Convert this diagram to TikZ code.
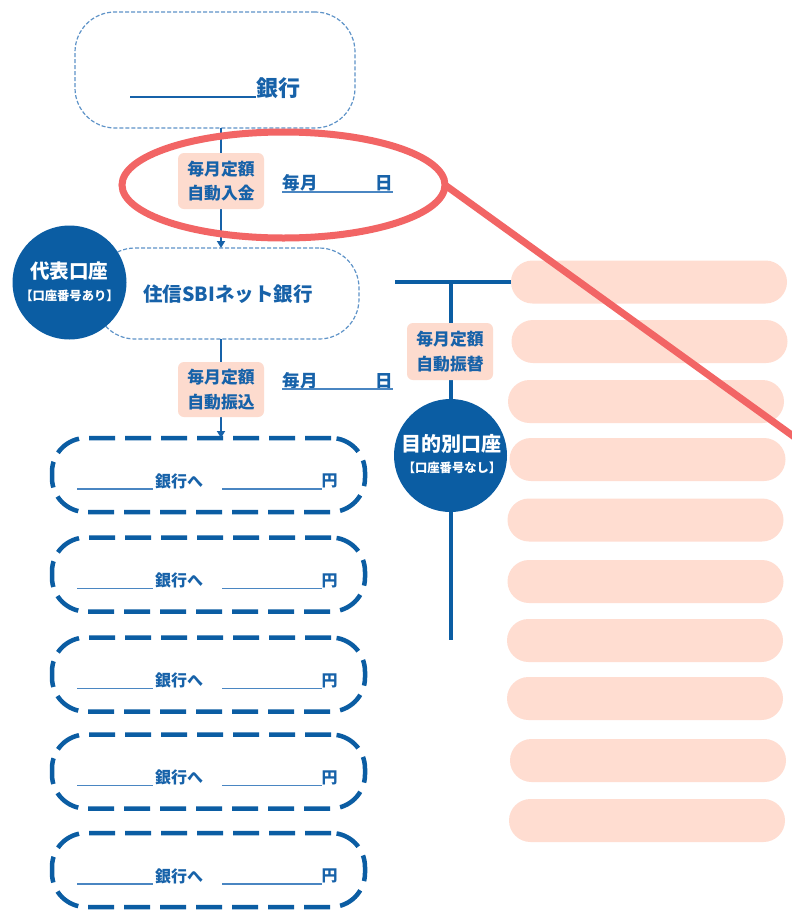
\documentclass[tikz,border=0pt]{standalone}
\usepackage{fontspec}
\setmainfont{Noto Sans CJK JP}
\usetikzlibrary{arrows.meta,shapes.geometric}
\definecolor{dblue}{HTML}{0B5DA3}
\definecolor{tblue}{HTML}{1762A9}
\definecolor{lblue}{HTML}{5E93C8}
\definecolor{ulblue}{HTML}{4A86C2}
\definecolor{pinkfill}{HTML}{FDDBCE}
\definecolor{barfill}{HTML}{FFDDD1}
\definecolor{redline}{HTML}{F26565}
\tikzset{
  thinbox/.style={draw=lblue, line width=1.2pt, dash pattern=on 4pt off 2pt, rounded corners=40pt, fill=white, inner sep=0pt, outer sep=0pt},
  thickbox/.style={draw=dblue, line width=4.5pt, dash pattern=on 26pt off 10pt, rounded corners=34pt, fill=white, minimum width=313pt, minimum height=74pt, inner sep=0pt, outer sep=0pt},
  labbox/.style={fill=pinkfill, rounded corners=6pt, minimum width=86pt, minimum height=56pt, inner sep=0pt, outer sep=0pt, align=center, text=tblue, font=\fontsize{16.8}{24.5}\selectfont\bfseries},
  bluecirc/.style={circle, fill=dblue, inner sep=0pt, outer sep=0pt, minimum size=114pt},
  bar/.style={fill=barfill, rounded corners=21.5pt, minimum width=276pt, minimum height=43pt, inner sep=0pt, outer sep=0pt},
  txt/.style={inner sep=0pt, outer sep=0pt, text=tblue},
  arrowline/.style={draw=tblue, line width=2pt, -{Triangle[length=7pt,width=8pt]}},
  spine/.style={draw=dblue, line width=4pt},
  uline/.style={draw=ulblue, line width=1.6pt},
}
\begin{document}
\begin{tikzpicture}[x=1pt,y=-1pt]
\useasboundingbox (0,0) rectangle (792,911);
\fill[white] (0,0) rectangle (792,911);

% right-hand pink bars
\foreach \i/\x/\y in {1/649/282,2/649.5/341.5,3/646/401.5,4/647.5/459.5,5/645.5/520,6/645.5/581.5,7/645/640.5,8/645/698.5,9/648/760.5,10/647/820.5}{
  \node[bar] (bar\i) at (\x,\y) {};
}

% top bank box
\node[thinbox, minimum width=280pt, minimum height=116pt] (top) at (215,70) {};
\node[txt, font=\fontsize{22}{22}\selectfont\bfseries] (topbank) at (278,88) {銀行};
\draw[line width=2pt, draw=tblue] (130,97) -- (topbank.south west |- 0,97);

% SBI box
\node[thinbox, minimum width=264pt, minimum height=91pt] (sbi) at (227,293.5) {};
\node[txt, font=\fontsize{19.5}{19.5}\selectfont\bfseries] (sbitext) at (228,294) {住信SBIネット銀行};

% connectors on the left spine
\coordinate (spx) at (221,0);
\draw[arrowline] (top.south -| spx) -- (sbi.north -| spx);

% representative account circle
\node[bluecirc] (circ1) at (69.5,282.5) {};
\node[txt, text=white, font=\fontsize{19.5}{19.5}\selectfont\bfseries] (c1a) at (69.5,271) {代表口座};
\node[txt, text=white, font=\fontsize{12.3}{12.3}\selectfont\bfseries] (c1b) at (69.5,296) {【口座番号あり】};

% destination boxes
\foreach \i/\c in {1/475,2/574.5,3/674.5,4/771.5,5/870}{
  \node[thickbox] (dest\i) at (208.5,\c) {};
  \node[txt, font=\fontsize{16}{16}\selectfont\bfseries] (destbank\i) at (179,\c+6) {銀行へ};
  \node[txt, font=\fontsize{16}{16}\selectfont\bfseries] (destyen\i) at (329.5,\c+6) {円};
  \draw[uline] (77,\c+14) -- (153,\c+14);
  \draw[uline] (222,\c+14) -- (322,\c+14);
}

\draw[arrowline] (sbi.south -| spx) -- (dest1.north -| spx);

% label boxes on the left spine
\node[labbox] (lab1) at (221,181) {毎月定額\\自動入金};
\node[labbox, minimum height=55pt] (lab2) at (221,389.5) {毎月定額\\自動振込};

% monthly day fields
\node[txt, font=\fontsize{17.5}{17.5}\selectfont\bfseries] (m1) at (300,183) {毎月};
\node[txt, font=\fontsize{17.5}{17.5}\selectfont\bfseries] (d1) at (384,183) {日};
\draw[uline] (282,192) -- (393,192);
\node[txt, font=\fontsize{17.5}{17.5}\selectfont\bfseries] (m2) at (300,381) {毎月};
\node[txt, font=\fontsize{17.5}{17.5}\selectfont\bfseries] (d2) at (384,381) {日};
\draw[uline] (282,389) -- (393,389);

% right spine
\coordinate (hstart) at (395,282);
\coordinate (jn) at (451,282);
\coordinate (vend) at (451,640);
\draw[spine] (hstart) -- (bar1.west);
\draw[spine] (jn) -- (vend);
\node[labbox, minimum height=57pt] (lab3) at (450,351.5) {毎月定額\\自動振替};
\node[bluecirc, minimum size=113pt] (circ2) at (450.5,455.5) {};
\node[txt, text=white, font=\fontsize{20}{20}\selectfont\bfseries] (c2a) at (451,444) {目的別口座};
\node[txt, text=white, font=\fontsize{12.3}{12.3}\selectfont\bfseries] (c2b) at (452,468) {【口座番号なし】};

% red highlight
\node[ellipse, draw=redline, line width=7pt, minimum width=323pt, minimum height=106pt, inner sep=0pt, outer sep=0pt] (ell) at (283.5,185) {};
\coordinate (rend) at (800,441);
\draw[draw=redline, line width=7pt] (ell.east) -- (rend);
\end{tikzpicture}
\end{document}
